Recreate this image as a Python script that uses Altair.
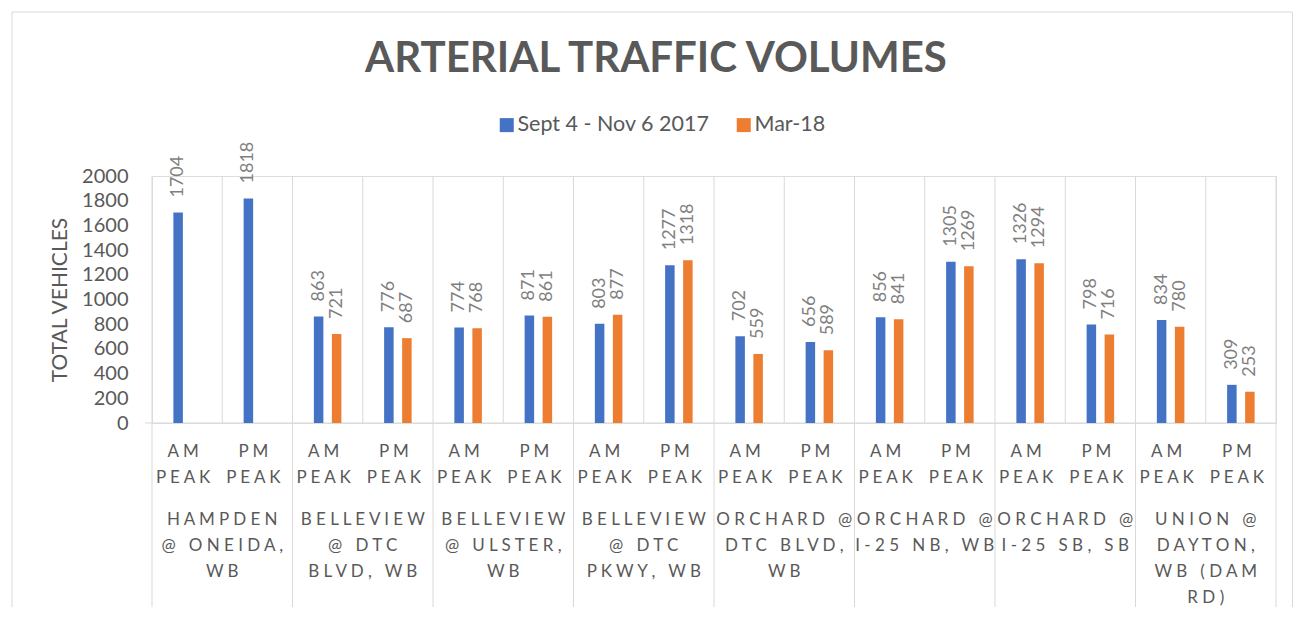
import altair as alt
import pandas as pd

TITLE = "ARTERIAL TRAFFIC VOLUMES"
SERIES = ["Sept 4 - Nov 6 2017", "Mar-18"]
COLORS = ["#4472C4", "#ED7D31"]
GROUPS = [
    "HAMPDEN\n@ ONEIDA,\nWB",
    "BELLEVIEW\n@ DTC\nBLVD, WB",
    "BELLEVIEW\n@ ULSTER,\nWB",
    "BELLEVIEW\n@ DTC\nPKWY, WB",
    "ORCHARD @\nDTC BLVD,\nWB",
    "ORCHARD @\nI-25 NB, WB",
    "ORCHARD @\nI-25 SB, SB",
    "UNION @\nDAYTON,\nWB (DAM\nRD)",
]
PERIODS = ["AM\nPEAK", "PM\nPEAK"]
SEPT = [1704, 1818, 863, 776, 774, 871, 803, 1277, 702, 656, 856, 1305, 1326, 798, 834, 309]
MAR = [None, None, 721, 687, 768, 861, 877, 1318, 559, 589, 841, 1269, 1294, 716, 780, 253]
Y_TICKS = [0, 200, 400, 600, 800, 1000, 1200, 1400, 1600, 1800, 2000]

W, H = 1124, 247
GRAY = "#595959"
LINE = "#d9d9d9"
FONT = "Lato"


def spaced(s):
    out = []
    for line in s.split("\n"):
        words = ["\u00a0".join(w) for w in line.split(" ")]
        out.append("\u00a0\u00a0\u00a0".join(words))
    return "\n".join(out)


keys = [f"{g}|{p}" for g in GROUPS for p in PERIODS]
rows = []
for i, k in enumerate(keys):
    rows.append({"key": k, "series": SERIES[0], "value": SEPT[i]})
    if MAR[i] is not None:
        rows.append({"key": k, "series": SERIES[1], "value": MAR[i]})
df = pd.DataFrame(rows)
cats = pd.DataFrame({"key": keys, "period": [spaced(p) for g in GROUPS for p in PERIODS]})
groups = pd.DataFrame({"key": [f"{g}|{PERIODS[0]}" for g in GROUPS],
                       "label": [spaced(g) for g in GROUPS]})
last = pd.DataFrame({"key": [keys[-1]]})
tdf = pd.DataFrame({"t": [TITLE]})

xscale = alt.Scale(domain=keys, paddingInner=0, paddingOuter=0)
yscale = alt.Scale(domain=[0, 2000], nice=False)
yaxis = alt.Axis(values=Y_TICKS, format="d", domain=False, ticks=False, grid=False,
                 labelFont=FONT, labelFontSize=20, labelColor=GRAY, labelPadding=24,
                 title="TOTAL VEHICLES", titleFont=FONT, titleFontSize=21,
                 titleFontWeight="normal", titleColor=GRAY, titleX=-92, titleY=H / 2,
                 titleAngle=270, titleAlign="center", titleBaseline="middle")
x = alt.X("key:N", scale=xscale, axis=None)
xoff = alt.XOffset("series:N", scale=alt.Scale(domain=SERIES, paddingInner=0.097, paddingOuter=1))
yenc = alt.Y("value:Q", scale=yscale, axis=yaxis)

border = alt.Chart(tdf).mark_rect(fill="white", fillOpacity=0, stroke=LINE, strokeWidth=1).encode(
    x=alt.value(-140), x2=alt.value(W + 16.5), y=alt.value(-164), y2=alt.value(H + 220))

grid = alt.Chart(cats).mark_rule(color=LINE, strokeWidth=1).encode(
    x=alt.X("key:N", scale=xscale, axis=None, bandPosition=0),
    y=alt.value(0), y2=alt.value(H))
gsep = alt.Chart(groups).mark_rule(color=LINE, strokeWidth=1).encode(
    x=alt.X("key:N", scale=xscale, axis=None, bandPosition=0),
    y=alt.value(H), y2=alt.value(H + 187))
redge = alt.Chart(last).mark_rule(color=LINE, strokeWidth=1).encode(
    x=alt.X("key:N", scale=xscale, axis=None, bandPosition=1),
    y=alt.value(0), y2=alt.value(H + 187))
base = alt.Chart(tdf).mark_rule(color=LINE, strokeWidth=1).encode(
    y=alt.Y(datum=0, scale=yscale, axis=yaxis), x=alt.value(-7), x2=alt.value(W))

bars = alt.Chart(df).mark_bar(width=9.5).encode(
    x=x, xOffset=xoff, y=yenc,
    color=alt.Color("series:N", scale=alt.Scale(domain=SERIES, range=COLORS),
                    legend=alt.Legend(title=None, orient="none", legendX=344, legendY=-62,
                                      direction="horizontal", symbolType="square",
                                      symbolSize=196, symbolStrokeWidth=0,
                                      labelFont=FONT, labelFontSize=21.5, labelColor=GRAY,
                                      labelLimit=400, labelOffset=0, columnPadding=23)),
)
labels = alt.Chart(df).mark_text(angle=270, align="left", baseline="middle", dx=15,
                                 font=FONT, fontSize=18, color="#7f7f7f").encode(
    x=x, xOffset=xoff, y=yenc, text=alt.Text("value:Q", format="d"))

plabels = alt.Chart(cats).mark_text(lineBreak="\n", lineHeight=26, font=FONT, fontSize=17,
                                    color=GRAY, align="center", baseline="alphabetic", dx=-4).encode(
    x=x, y=alt.value(H + 34), text="period:N")
glabels = alt.Chart(groups).mark_text(lineBreak="\n", lineHeight=26, font=FONT, fontSize=17,
                                      color=GRAY, align="center", baseline="alphabetic").encode(
    x=alt.X("key:N", scale=xscale, axis=None, bandPosition=1), y=alt.value(H + 102), text="label:N")

title = alt.Chart(tdf).mark_text(font=FONT, fontSize=42, fontWeight="bold", color=GRAY,
                                 align="center", baseline="alphabetic").encode(
    x=alt.value(504), y=alt.value(-104), text="t:N")

chart = alt.layer(border, grid, gsep, redge, base, bars, labels, plabels, glabels, title).properties(
    width=W, height=H, autosize="none",
    padding={"left": 144, "top": 168, "right": 17, "bottom": 184},
).configure_view(stroke=None).configure(background="white")

chart.save("out.html", embed_options={"renderer": "svg", "actions": False})
